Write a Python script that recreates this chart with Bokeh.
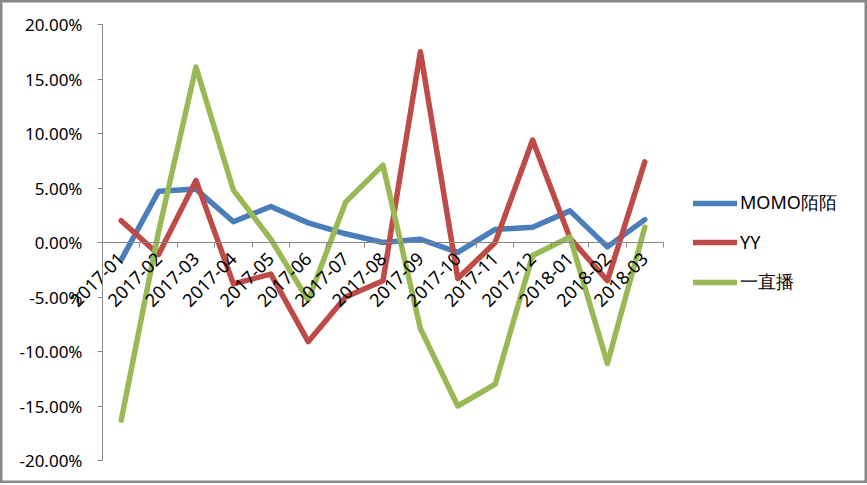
import numpy as np
from bokeh.plotting import figure
from bokeh.models import Range1d, FixedTicker, PrintfTickFormatter, Legend, LegendItem
from bokeh.embed import file_html
from bokeh.resources import INLINE

months = ["2017-01", "2017-02", "2017-03", "2017-04", "2017-05", "2017-06", "2017-07",
          "2017-08", "2017-09", "2017-10", "2017-11", "2017-12", "2018-01", "2018-02", "2018-03"]
momo = [-1.6, 4.7, 4.9, 1.9, 3.3, 1.8, 0.8, 0.0, 0.3, -0.9, 1.2, 1.4, 2.9, -0.4, 2.1]
yy = [2.0, -1.1, 5.7, -3.8, -2.9, -9.1, -5.0, -3.5, 17.5, -3.3, 0.0, 9.4, 0.4, -3.5, 7.4]
zhibo = [-16.3, 1.0, 16.1, 4.8, 0.3, -5.3, 3.7, 7.1, -7.9, -15.0, -13.0, -1.2, 0.5, -11.1, 1.4]
series_names = ["MOMO陌陌", "YY", "一直播"]
series_colors = ["#4A7EBB", "#BE4B48", "#98B954"]
y_ticks = [-20, -15, -10, -5, 0, 5, 10, 15, 20]

x = list(range(len(months)))
bounds = [i - 0.5 for i in range(len(months) + 1)]

W, H = 867, 483
# plot area of the chart inside the canvas (pixels)
PL, PR, PT, PB = 102, 663, 24, 460
ux = (PR - PL) / len(months)
uy = (PB - PT) / 40.0
x_range = Range1d(-0.5 - PL / ux, len(months) - 0.5 + (W - PR) / ux)
y_range = Range1d(-20 - (H - PB) / uy, 20 + PT / uy)

p = figure(width=W, height=H, x_range=x_range, y_range=y_range,
           output_backend="svg", toolbar_location=None,
           min_border_left=0, min_border_right=0, min_border_top=0, min_border_bottom=0)
p.outline_line_color = "#898989"
p.outline_line_width = 4
p.xgrid.visible = False
p.ygrid.visible = False

ya = p.yaxis[0]
ya.fixed_location = -0.5
ya.bounds = (-20, 20)
ya.ticker = FixedTicker(ticks=y_ticks)
ya.formatter = PrintfTickFormatter(format="%.2f%%")
ya.axis_line_color = "#868686"
ya.major_tick_line_color = "#868686"
ya.minor_tick_line_color = None
ya.major_tick_in = 0
ya.major_tick_out = 5
ya.major_label_standoff = 15
ya.major_label_text_font = "Noto Sans"
ya.major_label_text_font_size = "17px"
ya.major_label_text_color = "#000000"

xa = p.xaxis[0]
xa.fixed_location = 0
xa.bounds = (bounds[0], bounds[-1])
xa.ticker = FixedTicker(ticks=x, minor_ticks=bounds)
xa.major_label_overrides = {i: m for i, m in zip(x, months)}
xa.major_label_orientation = np.pi / 4
xa.axis_line_color = "#868686"
xa.major_tick_line_color = None
xa.major_tick_in = 0
xa.major_tick_out = 0
xa.minor_tick_line_color = "#868686"
xa.minor_tick_in = 0
xa.minor_tick_out = 5
xa.major_label_standoff = 8
xa.major_label_text_font = "Noto Sans"
xa.major_label_text_font_size = "18px"
xa.major_label_text_color = "#000000"

renderers = []
for vals, col in zip([momo, yy, zhibo], series_colors):
    r = p.line(x, vals, line_color=col, line_width=5.5, line_join="round", line_cap="round")
    renderers.append(r)

legend = Legend(items=[LegendItem(label=n, renderers=[r]) for n, r in zip(series_names, renderers)],
                location=(693, 189), margin=0, padding=0,
                glyph_width=44, glyph_height=20, label_height=20, spacing=15,
                label_standoff=3, border_line_color=None, background_fill_alpha=0,
                label_text_font="Noto Sans", label_text_font_size="18px",
                label_text_color="#000000")
p.add_layout(legend)

open("out.html", "w").write(file_html(p, INLINE))
